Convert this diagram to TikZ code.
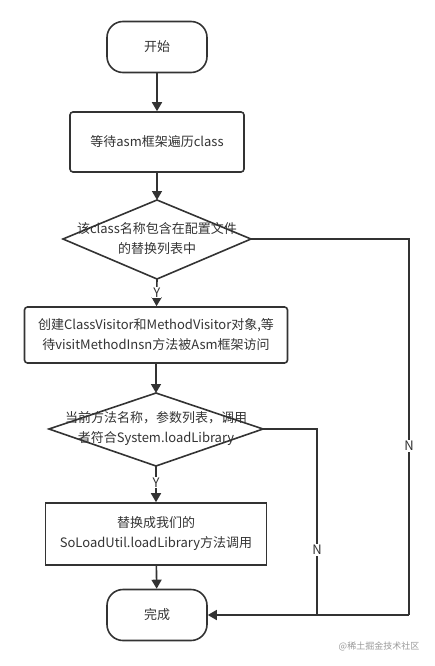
\documentclass[tikz,border=0pt]{standalone}
\usepackage{fontspec}
\setmainfont{Noto Sans CJK SC}
\usetikzlibrary{shapes.geometric,arrows.meta}
\definecolor{ink}{HTML}{333333}
\begin{document}
\begin{tikzpicture}[x=1pt,y=-1pt,
  every node/.style={font=\fontsize{13}{20}\selectfont, text=ink},
  term/.style={draw=ink, line width=1.6pt, rounded corners=16pt, minimum width=100pt, minimum height=51pt, inner sep=0pt},
  proc/.style={draw=ink, line width=1.6pt, rounded corners=3pt, inner sep=0pt, align=center},
  dec/.style={draw=ink, line width=1.6pt},
  conn/.style={draw=ink, line width=1.6pt, -{Triangle[length=9pt,width=10pt]}},
  line/.style={draw=ink, line width=1.6pt},
  lab/.style={fill=white, inner sep=1pt}
]
\useasboundingbox (0,0) rectangle (434,666);
\node[term] (start) at (157,47) {开始};
\node[proc, minimum width=174pt, minimum height=60pt] (wait) at (157,142) {等待asm框架遍历class};
\path[dec] (157,200) -- (251,239) -- (157,279) -- (63,239) -- cycle;
\node[align=center] (d1) at (157,239) {该class名称包含在配置文件\\的替换列表中};
\coordinate (d1t) at (157,200);
\coordinate (d1b) at (157,279);
\coordinate (d1r) at (251,239);
\node[proc, minimum width=263pt, minimum height=56pt] (create) at (156,335) {创建ClassVisitor和MethodVisitor对象,等\\待visitMethodInsn方法被Asm框架访问};
\path[dec] (156,393) -- (263,429) -- (156,466) -- (49,429) -- cycle;
\node[align=center] (d2) at (156,429) {当前方法名称，参数列表，调用\\者符合System.loadLibrary};
\coordinate (d2t) at (156,393);
\coordinate (d2b) at (156,466);
\coordinate (d2r) at (263,429);
\node[proc, rounded corners=0pt, minimum width=221pt, minimum height=62pt] (repl) at (156,534) {替换成我们的\\SoLoadUtil.loadLibrary方法调用};
\node[term] (end) at (157,615) {完成};
\coordinate (c1) at (409,239);
\coordinate (c2) at (409,615);
\coordinate (c3) at (317,429);
\coordinate (c4) at (317,615);

\draw[conn] (start) -- (wait);
\draw[conn] (wait) -- (d1t);
\draw[conn] (d1b) -- node[lab, pos=0.5]{Y} (create);
\draw[conn] (create) -- (d2t);
\draw[conn] (d2b) -- node[lab, pos=0.45]{Y} (repl);
\draw[conn] (repl) -- (end);
\draw[line] (d1r) -- (c1) -- node[lab, pos=0.55]{N} (c2);
\draw[conn] (c2) -- (end.east);
\draw[line] (d2r) -- (c3) -- node[lab, pos=0.65]{N} (c4);
\node[font=\fontsize{9}{10}\selectfont, text=gray!80] (wm) at (379,646) {@稀土掘金技术社区};
\end{tikzpicture}
\end{document}
